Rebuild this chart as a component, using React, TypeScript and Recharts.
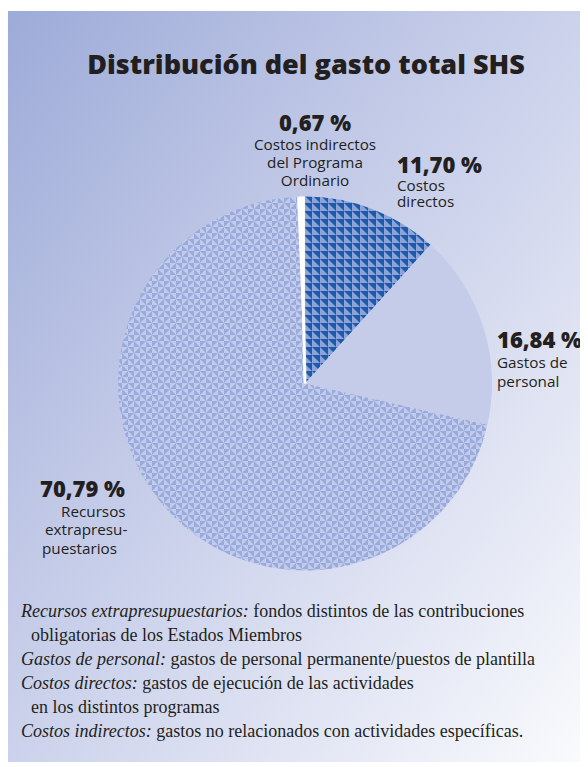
import React from 'react';
import { PieChart, Pie, Cell } from 'recharts';

const CATEGORIES = [
  'Costos directos',
  'Gastos de personal',
  'Recursos extrapresupuestarios',
  'Costos indirectos del Programa Ordinario',
];
const VALUES = [11.7, 16.84, 70.79, 0.67];
const LABEL_LINES = [
  ['Costos', 'directos'],
  ['Gastos de', 'personal'],
  ['Recursos', 'extrapresu-', 'puestarios'],
  ['Costos indirectos', 'del Programa', 'Ordinario'],
];
const TITLE = 'Distribución del gasto total SHS';
const NOTE_TERMS = ['Recursos extrapresupuestarios:', '', 'Gastos de personal:', 'Costos directos:', '', 'Costos indirectos:'];
const NOTE_TEXTS = [
  ' fondos distintos de las contribuciones',
  'obligatorias de los Estados Miembros',
  ' gastos de personal permanente/puestos de plantilla',
  ' gastos de ejecución de las actividades',
  'en los distintos programas',
  ' gastos no relacionados con actividades específicas.',
];

const FILLS = ['url(#pDark)', '#c4cce9', 'url(#pLight)', '#ffffff'];
// label layout relative to pie centre
const LABEL_LAYOUT = [
  { dx: 92, dy: -210.5, step: 16.5, anchor: 'start', shifts: [0, 0, 0] },
  { dx: 192, dy: -35.5, step: 19, anchor: 'start', shifts: [0, 0, 0] },
  { dx: -265, dy: 113.5, step: 18.5, anchor: 'start', shifts: [0, 21, 5, 2] },
  { dx: 10, dy: -252.5, step: 18, anchor: 'middle', shifts: [0, 0, 0, 0] },
];

const data = CATEGORIES.map((name, i) => ({ name, value: VALUES[i] }));

const FONT = '"Open Sans", "Noto Sans", sans-serif';
const SERIF = '"Liberation Serif", "DejaVu Serif", serif';

const renderLabel = (props: any) => {
  const { cx, cy, index, value } = props;
  const L = LABEL_LAYOUT[index];
  const lines = LABEL_LINES[index];
  const x = cx + L.dx;
  const y0 = cy + L.dy;
  const pct = value.toFixed(2).replace('.', ',') + ' %';
  return (
    <g key={'lbl' + index}>
      <text x={x + L.shifts[0]} y={y0} textAnchor={L.anchor} fontFamily={FONT} fontWeight={800} fontSize={22} fill="#231f20">
        {pct}
      </text>
      {lines.map((ln, j) => (
        <text
          key={j}
          x={x + (L.shifts[j + 1] || 0)}
          y={y0 + L.step * (j + 1) + 1}
          textAnchor={L.anchor}
          fontFamily={FONT}
          fontSize={15.25}
          fill="#231f20"
        >
          {ln}
        </text>
      ))}
    </g>
  );
};

const renderShape = (props: any) => {
  const { cx, cy, outerRadius, startAngle, endAngle, fill, index } = props;
  const RAD = Math.PI / 180;
  const p = (a: number, r: number) => [cx + r * Math.cos(-a * RAD), cy + r * Math.sin(-a * RAD)];
  const [sx, sy] = p(startAngle, outerRadius);
  const [ex, ey] = p(endAngle, outerRadius);
  const large = Math.abs(endAngle - startAngle) > 180 ? 1 : 0;
  const sweep = startAngle > endAngle ? 1 : 0;
  const d = `M${cx},${cy} L${sx},${sy} A${outerRadius},${outerRadius} 0 ${large} ${sweep} ${ex},${ey} Z`;
  if (index === 3) {
    const mid = (startAngle + endAngle) / 2;
    const [mx, my] = p(mid, outerRadius);
    return (
      <g>
        <path d={d} fill="#ffffff" />
        <line x1={cx} y1={cy} x2={mx} y2={my} stroke="#ffffff" strokeWidth={3} />
      </g>
    );
  }
  return <path d={d} fill={fill} stroke="none" />;
};

export default function App() {
  return (
    <div
      style={{
        position: 'relative',
        top: 3,
        width: 580,
        height: 754,
        background: 'linear-gradient(to bottom right, #9dabd8 0%, #bfc7e6 35%, #d0d6ed 55%, #fafbfd 100%)',
      }}
    >
      <PieChart width={580} height={754} margin={{ top: 0, right: 0, bottom: 0, left: 0 }}>
        <defs>
          <pattern id="pDark" width="8" height="8" patternUnits="userSpaceOnUse">
            <rect width="8" height="8" fill="#1c5aab" />
            <polygon points="0,0 0,8 8,8" fill="#8fa3d8" />
          </pattern>
          <pattern id="pLight" width="12" height="12" patternUnits="userSpaceOnUse">
            <rect width="12" height="12" fill="#c3cbeb" />
            <polygon points="0,0 6,0 6,6" fill="#99aadd" />
            <polygon points="12,0 12,6 6,6" fill="#99aadd" />
            <polygon points="12,12 6,12 6,6" fill="#99aadd" />
            <polygon points="0,12 0,6 6,6" fill="#99aadd" />
          </pattern>
        </defs>
        <text x={298} y={63} textAnchor="middle" fontFamily={FONT} fontWeight={800} fontSize={27} fill="#231f20">
          {TITLE}
        </text>
        <Pie
          data={data}
          dataKey="value"
          nameKey="name"
          cx={297}
          cy={372.5}
          innerRadius={0}
          outerRadius={187}
          startAngle={90}
          endAngle={-270}
          stroke="none"
          label={renderLabel}
          labelLine={false}
          shape={renderShape}
          isAnimationActive={false}
        >
          {data.map((d, i) => (
            <Cell key={d.name} fill={FILLS[i]} />
          ))}
        </Pie>
        {NOTE_TEXTS.map((t, i) => (
          <text
            key={'n' + i}
            x={NOTE_TERMS[i] ? 13 : 23}
            y={606 + i * 24}
            fontFamily={SERIF}
            fontSize={18}
            fill="#231f20"
          >
            {NOTE_TERMS[i] ? <tspan fontStyle="italic">{NOTE_TERMS[i]}</tspan> : null}
            {t}
          </text>
        ))}
      </PieChart>
    </div>
  );
}
